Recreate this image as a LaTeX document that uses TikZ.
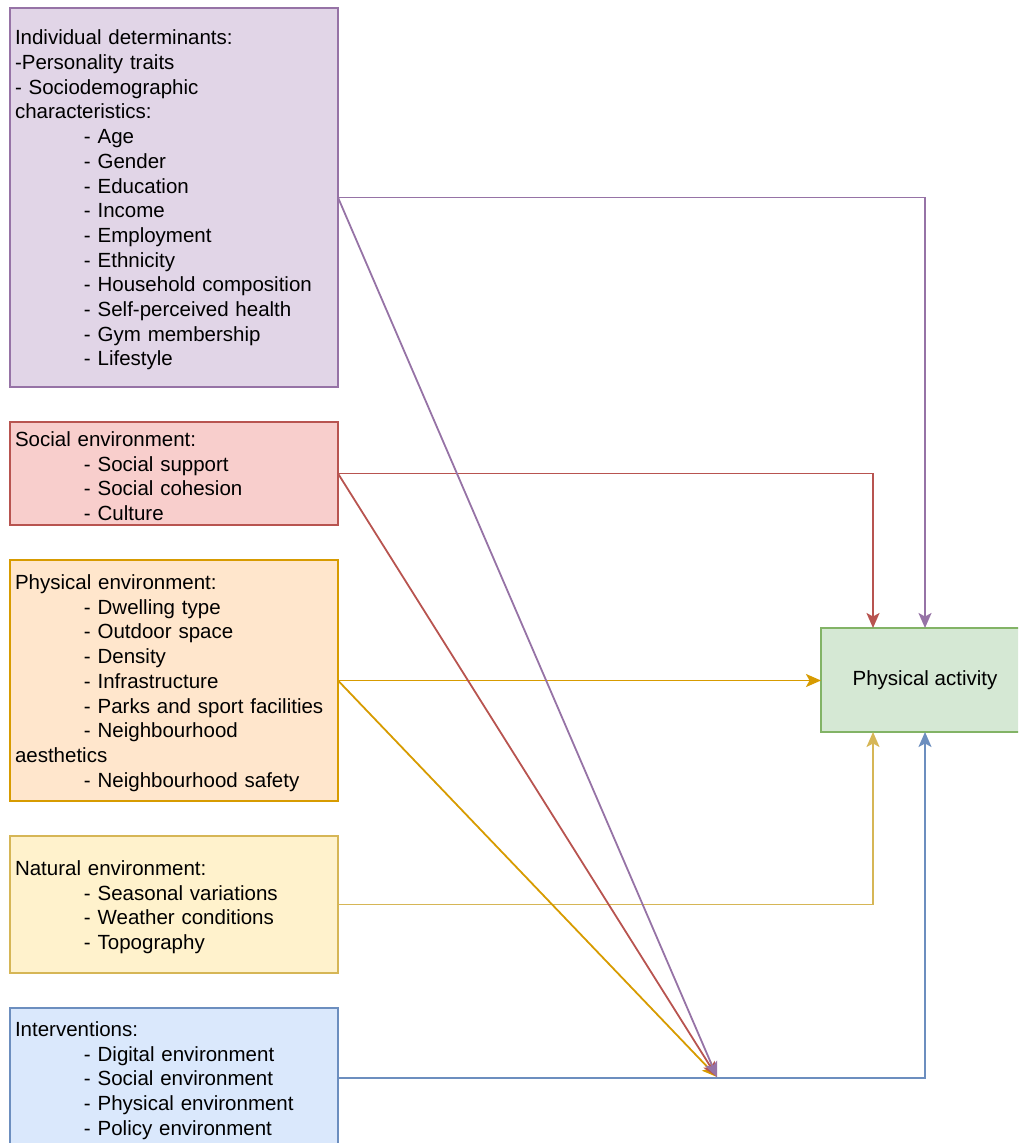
\documentclass[tikz,border=0pt]{standalone}
\usepackage{fontspec}
\setmainfont{Liberation Sans}
\usetikzlibrary{arrows.meta, positioning, calc}

\definecolor{purpleline}{HTML}{9673A6}
\definecolor{purplefill}{HTML}{E1D5E7}
\definecolor{redline}{HTML}{B85450}
\definecolor{redfill}{HTML}{F8CECC}
\definecolor{orangeline}{HTML}{D79B00}
\definecolor{orangefill}{HTML}{FFE6CC}
\definecolor{yellowline}{HTML}{D6B656}
\definecolor{yellowfill}{HTML}{FFF2CC}
\definecolor{blueline}{HTML}{6C8EBF}
\definecolor{bluefill}{HTML}{DAE8FC}
\definecolor{greenline}{HTML}{82B366}
\definecolor{greenfill}{HTML}{D5E8D4}

\newcommand{\itm}[1]{\hspace*{69pt}- #1}
\newcommand{\hd}{\rule{0pt}{20pt}}

\tikzset{
    factornode/.style={rectangle, line width=1.8pt, outer sep=0pt, inner xsep=5pt, inner ysep=0pt, text width=318pt, minimum width=328pt, align=left, font=\fontsize{20.5}{24.7}\selectfont},
    purplenode/.style={factornode, draw=purpleline, fill=purplefill},
    rednode/.style={factornode, draw=redline, fill=redfill},
    orangenode/.style={factornode, draw=orangeline, fill=orangefill},
    yellownode/.style={factornode, draw=yellowline, fill=yellowfill},
    bluenode/.style={factornode, draw=blueline, fill=bluefill},
    greennode/.style={rectangle, line width=1.8pt, outer sep=0pt, draw=greenline, fill=greenfill, minimum width=208pt, minimum height=104pt, font=\fontsize{20.5}{24.7}\selectfont},
    myarrow/.style={-{Stealth[length=15pt, width=13pt, inset=3.5pt]}, line width=1.8pt}
}

\begin{document}
\begin{tikzpicture}[x=1pt, y=-1pt]

        \clip (0,0) rectangle (1018,1143);

        % ------------------
        % nodes
        % ------------------

        \node[purplenode, minimum height=379pt, anchor=north west] (indiv) at (10,8) {\hd Individual determinants:\\
            -Personality traits\\
            - Sociodemographic\\
            characteristics:\\
            \itm{Age}\\ \itm{Gender}\\ \itm{Education}\\ \itm{Income}\\ \itm{Employment}\\
            \itm{Ethnicity}\\ \itm{Household composition}\\ \itm{Self-perceived health}\\
            \itm{Gym membership}\\ \itm{Lifestyle}};

        \node[rednode, minimum height=103pt, below=35pt of indiv] (social) {\hd Social environment:\\
            \itm{Social support}\\ \itm{Social cohesion}\\ \itm{Culture}};

        \node[orangenode, minimum height=241pt, below=35pt of social] (phys) {\hd Physical environment:\\
            \itm{Dwelling type}\\ \itm{Outdoor space}\\ \itm{Density}\\ \itm{Infrastructure}\\
            \itm{Parks and sport facilities}\\ \itm{Neighbourhood}\\ aesthetics\\
            \itm{Neighbourhood safety}};

        \node[yellownode, minimum height=137pt, below=35pt of phys] (natural) {\hd Natural environment:\\
            \itm{Seasonal variations}\\ \itm{Weather conditions}\\ \itm{Topography}};

        \node[bluenode, minimum height=140pt, below=35pt of natural] (interv) {\hd Interventions:\\
            \itm{Digital environment}\\ \itm{Social environment}\\ \itm{Physical environment}\\
            \itm{Policy environment}};

        \node[greennode] (pa) at (925,680) {\raisebox{-2pt}{Physical activity}};

        \coordinate (hub) at (717,1077);
        \coordinate (paleft) at ($(pa.north west)!0.5!(pa.north)$);
        \coordinate (paleftb) at ($(pa.south west)!0.5!(pa.south)$);

        % ------------------
        % arrows
        % ------------------

        \draw[myarrow, purpleline] (indiv.east) -| (pa.north);
        \draw[myarrow, redline] (social.east) -| (paleft);
        \draw[myarrow, orangeline] (phys.east) -- (phys.east -| pa.west);
        \draw[myarrow, yellowline] (natural.east) -| (paleftb);
        \draw[myarrow, blueline] (interv.east) -| (pa.south);

        \draw[myarrow, orangeline] (phys.east) -- (hub);
        \draw[myarrow, redline] (social.east) -- (hub);
        \draw[myarrow, purpleline] (indiv.east) -- (hub);

    \end{tikzpicture}
\end{document}
